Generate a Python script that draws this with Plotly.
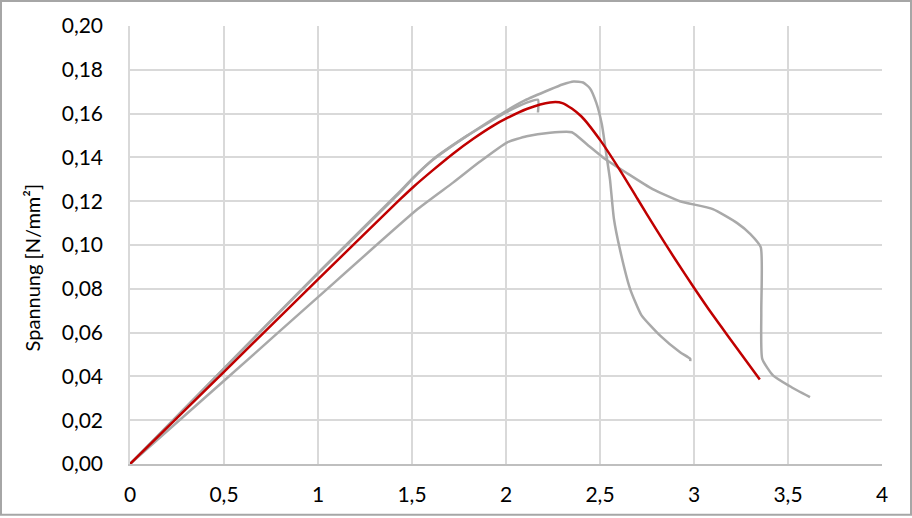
import plotly.graph_objects as go

# --- Dados ---
X_TICKS = [0, 0.5, 1, 1.5, 2, 2.5, 3, 3.5, 4]
X_TICK_LABELS = ["0", "0,5", "1", "1,5", "2", "2,5", "3", "3,5", "4"]
Y_TICKS = [0, 0.02, 0.04, 0.06, 0.08, 0.10, 0.12, 0.14, 0.16, 0.18, 0.20]

# Probe 1 (höchste Spitze, steiler Abfall)
probe1_x = [0, 0.5, 1.0, 1.436, 1.5, 1.613, 1.79, 2.0, 2.1, 2.234, 2.3, 2.36, 2.41,
            2.447, 2.48, 2.51, 2.535, 2.553, 2.574, 2.606, 2.66, 2.72, 2.82, 2.926,
            2.98, 2.98]
probe1_y = [0, 0.0435, 0.087, 0.124, 0.130, 0.139, 0.1497, 0.1612, 0.166, 0.171,
            0.1733, 0.1747, 0.1742, 0.1715, 0.165, 0.155, 0.1405, 0.130, 0.112, 0.098,
            0.080, 0.068, 0.0586, 0.051, 0.048, 0.047]

# Probe 2 (niedrige Spitze, langer Auslauf)
probe2_x = [0, 0.5, 1.0, 1.53, 1.72, 1.86, 2.005, 2.11, 2.234, 2.35, 2.43,
            2.516, 2.64, 2.78, 2.925, 3.10, 3.23, 3.30, 3.355, 3.358, 3.363, 3.42,
            3.51, 3.617]
probe2_y = [0, 0.038, 0.0762, 0.1164, 0.1286, 0.138, 0.1468, 0.1497, 0.1513,
            0.1515, 0.146, 0.140, 0.133, 0.1255, 0.120, 0.1164, 0.110, 0.105, 0.099,
            0.070, 0.048, 0.0405, 0.0355, 0.0305]

# Probe 3 (bricht bei ~2,17 ab)
probe3_x = [0, 0.5, 1.0, 1.436, 1.5, 1.613, 1.79, 2.0, 2.11, 2.17, 2.17]
probe3_y = [0, 0.0437, 0.0873, 0.1245, 0.1302, 0.1392, 0.1497, 0.1605, 0.165,
            0.1663, 0.1605]

# Mittelwert (rot)
mittel_x = [0, 0.5, 1.0, 1.436, 1.507, 1.613, 1.72, 1.826, 1.933, 2.007, 2.11,
            2.234, 2.3, 2.4, 2.5, 2.6, 2.7, 2.8, 2.9, 3.0, 3.1, 3.2, 3.35]
mittel_y = [0, 0.0421, 0.0843, 0.1208, 0.1265, 0.1343, 0.1418, 0.1485, 0.1545,
            0.158, 0.1621, 0.1651, 0.1648, 0.1588, 0.148, 0.135, 0.121, 0.107,
            0.0935, 0.0805, 0.068, 0.0562, 0.0386]

GRAU = "#a9a9a9"
ROT = "#c00000"
FONT = "Lato"

fig = go.Figure()

for xs, ys in [(probe2_x, probe2_y), (probe3_x, probe3_y), (probe1_x, probe1_y)]:
    fig.add_trace(go.Scatter(x=xs, y=ys, mode="lines",
                             line=dict(color=GRAU, width=2.5, shape="spline", smoothing=0.5),
                             hoverinfo="skip", showlegend=False))

fig.add_trace(go.Scatter(x=mittel_x, y=mittel_y, mode="lines",
                         line=dict(color=ROT, width=2.5, shape="spline", smoothing=0.8),
                         showlegend=False))

fig.update_layout(
    width=912, height=518,
    margin=dict(l=130, r=30, t=26, b=52),
    paper_bgcolor="white", plot_bgcolor="white",
    separators=", ",
    font=dict(family=FONT, size=21, color="black"),
    showlegend=False,
)

fig.update_xaxes(
    range=[0, 4], tickvals=X_TICKS, ticktext=X_TICK_LABELS,
    showgrid=True, gridcolor="#d9d9d9", gridwidth=1.5,
    showline=True, linecolor="#bfbfbf", linewidth=2,
    zeroline=False, ticks="", ticklabelstandoff=11,
)
fig.update_yaxes(
    range=[0, 0.20], tickvals=Y_TICKS, tickformat=".2f",
    showgrid=True, gridcolor="#d9d9d9", gridwidth=1.5,
    showline=True, linecolor="#d9d9d9", linewidth=1.5,
    zeroline=False, ticks="", ticklabelstandoff=21,
)

# Achsentitel als Annotation
fig.add_annotation(
    text="Spannung [N/mm²]", textangle=-90,
    xref="paper", yref="paper", x=-0.131, y=0.45,
    xanchor="center", yanchor="middle", showarrow=False,
    font=dict(family=FONT, size=20, color="black"),
)

# Rahmen um das Diagramm
fig.add_shape(
    type="rect", xref="paper", yref="paper",
    x0=-129 / 752, x1=781 / 752, y0=-51 / 440, y1=465 / 440,
    line=dict(color="#a6a6a6", width=2), fillcolor="rgba(0,0,0,0)", layer="below",
)

fig.write_html("out.html", config={"displayModeBar": False},
               post_script="document.body.style.margin='0';")
